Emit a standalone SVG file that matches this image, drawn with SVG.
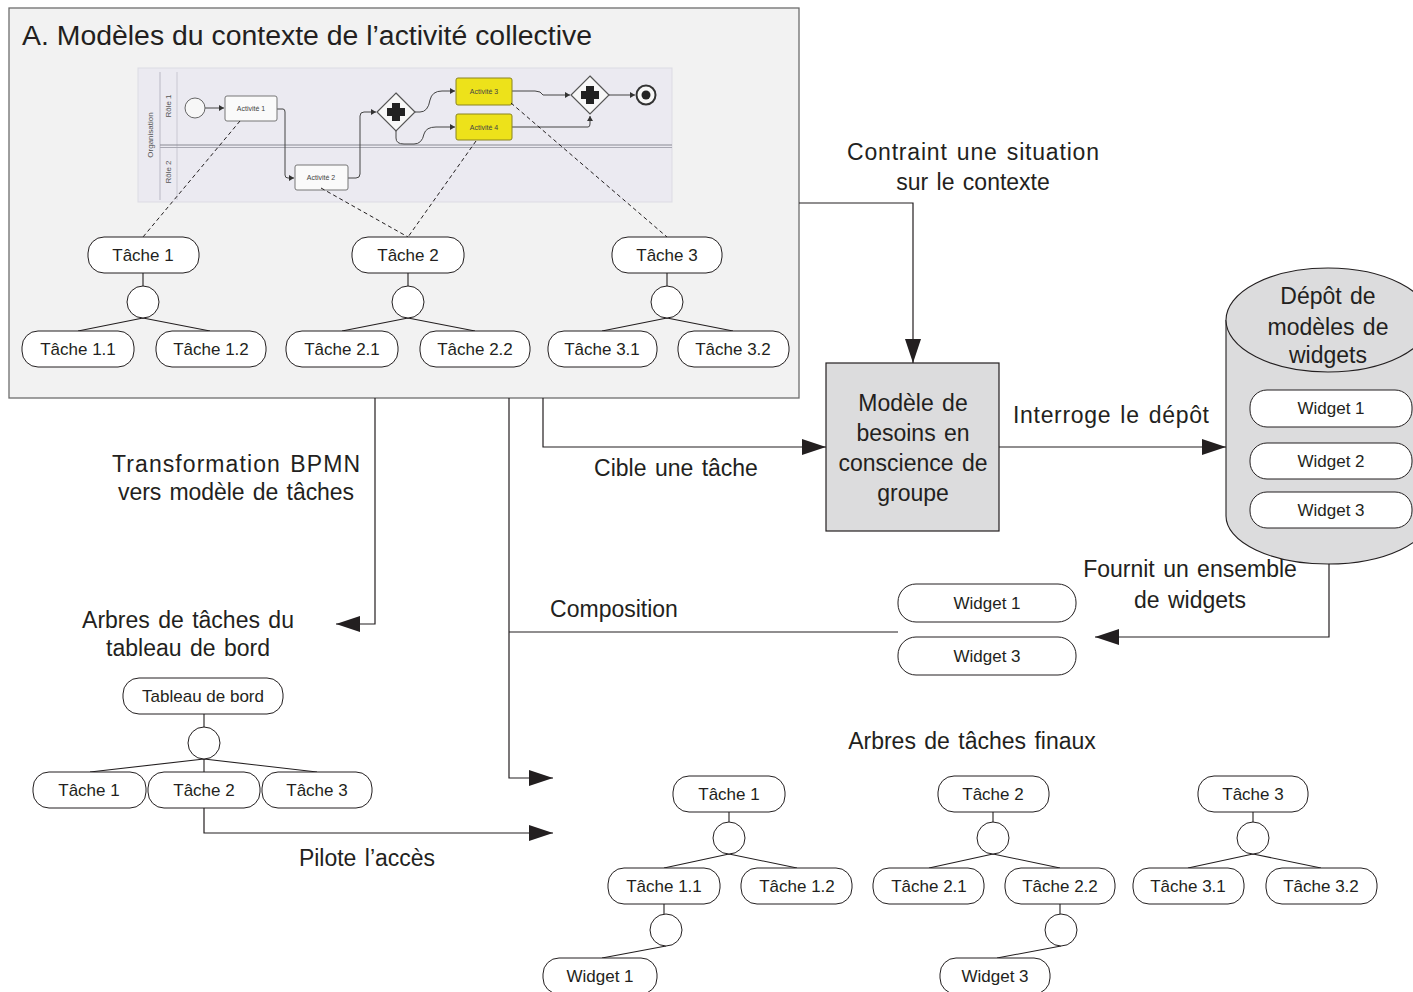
<svg xmlns="http://www.w3.org/2000/svg" width="1413" height="992" viewBox="0 0 1413 992">
<style>
text{font-family:"Liberation Sans",Arial,sans-serif;fill:#231f20}
.t{font-size:17px;text-anchor:middle}
.l{font-size:23px;text-anchor:middle;word-spacing:2px}
.n{fill:#fff;stroke:#231f20;stroke-width:1}
.c{fill:#fff;stroke:#231f20;stroke-width:1}
.e{fill:none;stroke:#231f20;stroke-width:1.1}
.a{fill:none;stroke:#231f20;stroke-width:1.2}
.d{fill:none;stroke:#231f20;stroke-width:1;stroke-dasharray:4 3}
.f{fill:none;stroke:#444;stroke-width:1}
.act{fill:#fafafa;stroke:#777;stroke-width:1}
.ya{fill:#ede21a;stroke:#8a8420;stroke-width:1}
.bt{font-size:7px;text-anchor:middle;fill:#444}
.vt{font-size:8px;text-anchor:middle;fill:#555}
</style>
<defs>
<marker id="ar" markerUnits="userSpaceOnUse" markerWidth="24" markerHeight="16" refX="24" refY="8" orient="auto">
<path d="M0,0 L24,8 L0,16 z" fill="#231f20"/>
</marker>
<marker id="sa" markerUnits="userSpaceOnUse" markerWidth="6" markerHeight="6" refX="5" refY="3" orient="auto">
<path d="M0,0 L5,3 L0,6 z" fill="#333"/>
</marker>
</defs>
<rect width="1413" height="992" fill="#fff"/>

<g id="contextA">
<rect x="9" y="8" width="790" height="390" fill="#f2f2f2" stroke="#6d6d6d" stroke-width="1.3"/>
<text x="22" y="45" font-size="27" textLength="570" lengthAdjust="spacingAndGlyphs">A. Modèles du contexte de l’activité collective</text>
</g>

<g id="bpmn">
<rect x="138" y="68" width="534" height="134" fill="#ebeaf1" stroke="#dcdbe3"/>
<line x1="160" y1="72" x2="160" y2="200" stroke="#b9b8c4"/>
<line x1="177" y1="72" x2="177" y2="200" stroke="#c9c8d2"/>
<line x1="160" y1="145" x2="672" y2="145" stroke="#8a8a94" stroke-width="1.2"/>
<line x1="160" y1="147.5" x2="672" y2="147.5" stroke="#a8a8b2" stroke-width="1"/>
<text class="vt" transform="translate(153,135) rotate(-90)">Organisation</text>
<text class="vt" transform="translate(171,106) rotate(-90)">Rôle 1</text>
<text class="vt" transform="translate(171,172) rotate(-90)">Rôle 2</text>
<path class="f" d="M205,108 H224" marker-end="url(#sa)"/>
<path class="f" d="M277,109 H283 Q285,109 285,112 V175 Q285,178 288,178 H294" marker-end="url(#sa)"/>
<path class="f" d="M348,178 H356 Q360,178 360,174 V116 Q360,112 364,112 H376" marker-end="url(#sa)"/>
<path class="f" d="M415,112 H420 Q428,112 430,100 Q432,91 442,91 H455" marker-end="url(#sa)"/>
<path class="f" d="M396,131 V138 Q396,144 404,144 H414 Q422,144 424,134 Q426,127 436,127 H455" marker-end="url(#sa)"/>
<path class="f" d="M512,91 H535 Q541,91 543,95 H570" marker-end="url(#sa)"/>
<path class="f" d="M512,127 H588 Q590,127 590,124 V116" marker-end="url(#sa)"/>
<path class="f" d="M609,95 H635" marker-end="url(#sa)"/>
<circle cx="195" cy="108" r="10" fill="#f7f7f7" stroke="#666"/>
<rect class="act" x="225" y="96" width="52" height="25" rx="2"/>
<text class="bt" x="251" y="111">Activité 1</text>
<rect class="act" x="295" y="165" width="53" height="25" rx="2"/>
<text class="bt" x="321" y="180">Activité 2</text>
<rect class="ya" x="456" y="78" width="56" height="27" rx="2"/>
<text class="bt" x="484" y="94">Activité 3</text>
<rect class="ya" x="456" y="114" width="56" height="26" rx="2"/>
<text class="bt" x="484" y="130">Activité 4</text>
<path d="M396,93 L415,112 L396,131 L377,112 z" fill="#f7f7f7" stroke="#555" stroke-width="1.2"/>
<path d="M392,103 h8 v5 h5 v8 h-5 v5 h-8 v-5 h-5 v-8 h5 z" fill="#222"/>
<path d="M590,76 L609,95 L590,114 L571,95 z" fill="#f7f7f7" stroke="#555" stroke-width="1.2"/>
<path d="M586,86 h8 v5 h5 v8 h-5 v5 h-8 v-5 h-5 v-8 h5 z" fill="#222"/>
<circle cx="646" cy="95" r="9.5" fill="#f7f7f7" stroke="#333" stroke-width="2"/>
<circle cx="646" cy="95" r="4.5" fill="#222"/>
</g>

<g id="connectors">
<path class="d" d="M240,121 L143,237"/>
<path class="d" d="M321,188 L408,237"/>
<path class="d" d="M476,141 L408,237"/>
<path class="d" d="M511,103 L667,237"/>
<path class="e" d="M143,273 V286 M143,318 L78,331 M143,318 L210,331"/>
<path class="e" d="M408,273 V286 M408,318 L342,331 M408,318 L475,331"/>
<path class="e" d="M667,273 V286 M667,318 L602,331 M667,318 L733,331"/>
<path class="e" d="M204,714 V727 M204,759 L90,772 M204,759 V772 M204,759 L317,772"/>
<path class="e" d="M729,812 V822 M729,854 L664,868 M729,854 L797,868"/>
<path class="e" d="M664,904 V914 M666,946 L602,958"/>
<path class="e" d="M993,812 V822 M993,854 L929,868 M993,854 L1060,868"/>
<path class="e" d="M1060,904 V914 M1061,946 L997,958"/>
<path class="e" d="M1253,812 V822 M1253,854 L1188,868 M1253,854 L1321,868"/>
<path class="a" d="M799,203 H913 V363" marker-end="url(#ar)"/>
<path class="a" d="M543,398 V447 H826" marker-end="url(#ar)"/>
<path class="a" d="M999,447 H1226" marker-end="url(#ar)"/>
<path class="a" d="M1329,564 V637 H1095" marker-end="url(#ar)"/>
<path class="a" d="M375,398 V624 H336" marker-end="url(#ar)"/>
<path class="a" d="M898,632 H509"/>
<path class="a" d="M509,398 V778 H553" marker-end="url(#ar)"/>
<path class="a" d="M204,808 V833 H553" marker-end="url(#ar)"/>
<text class="l" x="973" y="160" textLength="252">Contraint une situation</text>
<text class="l" x="973" y="190">sur le contexte</text>
<text class="l" x="676" y="476">Cible une tâche</text>
<text class="l" x="1111" y="423" textLength="196">Interroge le dépôt</text>
<text class="l" x="1190" y="577">Fournit un ensemble</text>
<text class="l" x="1190" y="608">de widgets</text>
<text class="l" x="614" y="617">Composition</text>
<text class="l" x="236" y="472" textLength="248">Transformation BPMN</text>
<text class="l" x="236" y="500" textLength="236">vers modèle de tâches</text>
<text class="l" x="367" y="866">Pilote l’accès</text>
</g>

<g id="t1"><rect class="n" x="88" y="237" width="111" height="36" rx="16"/><text class="t" x="143" y="261">Tâche 1</text></g>
<g id="t1o"><circle class="c" cx="143" cy="302" r="16"/></g>
<g id="t11"><rect class="n" x="22" y="331" width="112" height="36" rx="16"/><text class="t" x="78" y="355">Tâche 1.1</text></g>
<g id="t12"><rect class="n" x="156" y="331" width="110" height="36" rx="16"/><text class="t" x="211" y="355">Tâche 1.2</text></g>
<g id="t2"><rect class="n" x="352" y="237" width="112" height="36" rx="16"/><text class="t" x="408" y="261">Tâche 2</text></g>
<g id="t2o"><circle class="c" cx="408" cy="302" r="16"/></g>
<g id="t21"><rect class="n" x="286" y="331" width="112" height="36" rx="16"/><text class="t" x="342" y="355">Tâche 2.1</text></g>
<g id="t22"><rect class="n" x="420" y="331" width="110" height="36" rx="16"/><text class="t" x="475" y="355">Tâche 2.2</text></g>
<g id="t3"><rect class="n" x="612" y="237" width="110" height="36" rx="16"/><text class="t" x="667" y="261">Tâche 3</text></g>
<g id="t3o"><circle class="c" cx="667" cy="302" r="16"/></g>
<g id="t31"><rect class="n" x="548" y="331" width="109" height="36" rx="16"/><text class="t" x="602" y="355">Tâche 3.1</text></g>
<g id="t32"><rect class="n" x="678" y="331" width="111" height="36" rx="16"/><text class="t" x="733" y="355">Tâche 3.2</text></g>

<g id="besoins">
<rect x="826" y="363" width="173" height="168" fill="#dcdcdd" stroke="#231f20" stroke-width="1.2"/>
<text class="l" x="913" y="411">Modèle de</text>
<text class="l" x="913" y="441">besoins en</text>
<text class="l" x="913" y="471">conscience de</text>
<text class="l" x="913" y="501">groupe</text>
</g>

<g id="depot">
<path d="M1226,320 V516 A102,48 0 0 0 1430,516 V320" fill="#dcdcdd" stroke="#231f20" stroke-width="1.1"/>
<ellipse cx="1328" cy="320" rx="102" ry="52" fill="#dcdcdd" stroke="#231f20" stroke-width="1.1"/>
<text class="l" x="1328" y="304">Dépôt de</text>
<text class="l" x="1328" y="335">modèles de</text>
<text class="l" x="1328" y="363">widgets</text>
</g>
<g id="dw1"><rect class="n" x="1250" y="390" width="162" height="37" rx="17"/><text class="t" x="1331" y="414">Widget 1</text></g>
<g id="dw2"><rect class="n" x="1250" y="443" width="162" height="36" rx="17"/><text class="t" x="1331" y="467">Widget 2</text></g>
<g id="dw3"><rect class="n" x="1250" y="492" width="162" height="36" rx="17"/><text class="t" x="1331" y="516">Widget 3</text></g>

<g id="sw1"><rect class="n" x="898" y="584" width="178" height="38" rx="18"/><text class="t" x="987" y="609">Widget 1</text></g>
<g id="sw3"><rect class="n" x="898" y="637" width="178" height="38" rx="18"/><text class="t" x="987" y="662">Widget 3</text></g>

<g id="dashboard">
<text class="l" x="188" y="628">Arbres de tâches du</text>
<text class="l" x="188" y="656">tableau de bord</text>
</g>
<g id="tb"><rect class="n" x="123" y="678" width="160" height="36" rx="16"/><text class="t" x="203" y="702">Tableau de bord</text></g>
<g id="tbo"><circle class="c" cx="204" cy="743" r="16"/></g>
<g id="tb1"><rect class="n" x="33" y="772" width="113" height="36" rx="16"/><text class="t" x="89" y="796">Tâche 1</text></g>
<g id="tb2"><rect class="n" x="148" y="772" width="112" height="36" rx="16"/><text class="t" x="204" y="796">Tâche 2</text></g>
<g id="tb3"><rect class="n" x="262" y="772" width="110" height="36" rx="16"/><text class="t" x="317" y="796">Tâche 3</text></g>

<g id="finaux"><text class="l" x="972" y="749">Arbres de tâches finaux</text></g>
<g id="f1"><rect class="n" x="673" y="776" width="112" height="36" rx="16"/><text class="t" x="729" y="800">Tâche 1</text></g>
<g id="f1o"><circle class="c" cx="729" cy="838" r="16"/></g>
<g id="f11"><rect class="n" x="608" y="868" width="112" height="36" rx="16"/><text class="t" x="664" y="892">Tâche 1.1</text></g>
<g id="f12"><rect class="n" x="741" y="868" width="111" height="36" rx="16"/><text class="t" x="797" y="892">Tâche 1.2</text></g>
<g id="f11o"><circle class="c" cx="666" cy="930" r="16"/></g>
<g id="fw1"><rect class="n" x="543" y="958" width="114" height="36" rx="16"/><text class="t" x="600" y="982">Widget 1</text></g>
<g id="f2"><rect class="n" x="938" y="776" width="111" height="36" rx="16"/><text class="t" x="993" y="800">Tâche 2</text></g>
<g id="f2o"><circle class="c" cx="993" cy="838" r="16"/></g>
<g id="f21"><rect class="n" x="873" y="868" width="111" height="36" rx="16"/><text class="t" x="929" y="892">Tâche 2.1</text></g>
<g id="f22"><rect class="n" x="1005" y="868" width="110" height="36" rx="16"/><text class="t" x="1060" y="892">Tâche 2.2</text></g>
<g id="f22o"><circle class="c" cx="1061" cy="930" r="16"/></g>
<g id="fw3"><rect class="n" x="940" y="958" width="110" height="36" rx="16"/><text class="t" x="995" y="982">Widget 3</text></g>
<g id="f3"><rect class="n" x="1198" y="776" width="110" height="36" rx="16"/><text class="t" x="1253" y="800">Tâche 3</text></g>
<g id="f3o"><circle class="c" cx="1253" cy="838" r="16"/></g>
<g id="f31"><rect class="n" x="1133" y="868" width="111" height="36" rx="16"/><text class="t" x="1188" y="892">Tâche 3.1</text></g>
<g id="f32"><rect class="n" x="1266" y="868" width="111" height="36" rx="16"/><text class="t" x="1321" y="892">Tâche 3.2</text></g>
</svg>
